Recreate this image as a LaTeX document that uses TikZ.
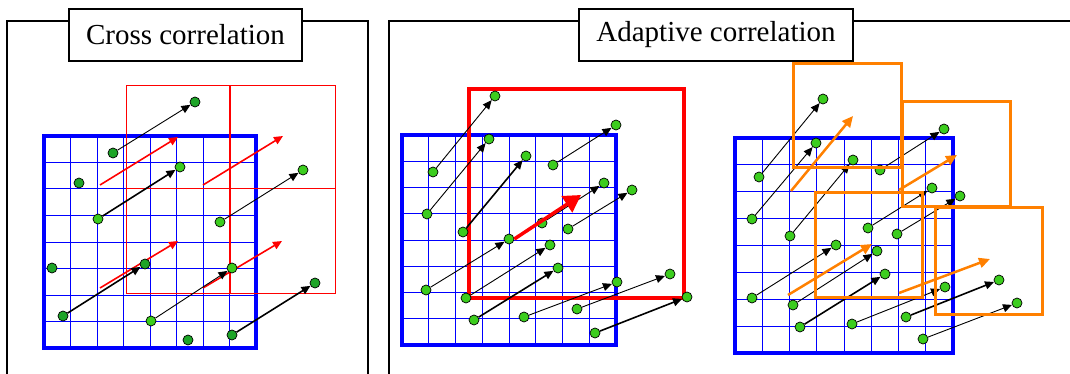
\documentclass[tikz,border=0pt]{standalone}
\usepackage{fontspec}
\setmainfont{Liberation Serif}
\usetikzlibrary{arrows.meta}
\definecolor{gblue}{RGB}{0,0,255}
\definecolor{gred}{RGB}{255,0,0}
\definecolor{gorange}{RGB}{255,128,0}
\definecolor{dotgreen}{RGB}{60,205,30}
\definecolor{dotdark}{RGB}{30,165,40}
\newcommand\mygrid[4]{%
  \foreach \i in {1,...,7}{%
    \draw[gridline] ({#1+\i*(#3-#1)/8},#2) -- ({#1+\i*(#3-#1)/8},#4);
    \draw[gridline] (#1,{#2+\i*(#4-#2)/8}) -- (#3,{#2+\i*(#4-#2)/8});
  }%
  \draw[gridframe] (#1,#2) rectangle (#3,#4);
}
\tikzset{
  panel/.style={line width=1.3pt,draw=black},
  titlebox/.style={draw=black,fill=white,line width=1.1pt,inner sep=0pt,
    minimum height=52pt,font=\fontsize{29}{32}\selectfont},
  gridline/.style={draw=gblue,line width=1pt},
  gridframe/.style={draw=gblue,line width=4pt},
  redwin/.style={draw=gred,line width=1pt},
  bigredwin/.style={draw=gred,line width=4pt},
  orwin/.style={draw=gorange,line width=3pt},
  dot/.style={circle,draw=black,fill=dotgreen,inner sep=0pt,minimum size=10pt,line width=0.7pt},
  dkdot/.style={dot,fill=dotdark},
  thinarr/.style={draw=black,line width=0.9pt,-{Triangle[length=9pt,width=8pt]}},
  thickarr/.style={draw=black,line width=1.6pt,-{Triangle[length=9pt,width=8pt]}},
  redarr/.style={draw=gred,line width=1.6pt,-{Triangle[length=9pt,width=8pt]}},
  bigredarr/.style={draw=gred,line width=3.5pt,-{Triangle[length=17pt,width=19pt]}},
  orarr/.style={draw=gorange,line width=2.5pt,-{Triangle[length=11pt,width=10pt]}},
}
\begin{document}
\begin{tikzpicture}[x=1pt,y=-1pt]
\useasboundingbox (0,0) rectangle (1070,374);
% panels
\draw[panel] (7,380) -- (7,21) -- (368,21) -- (368,380);
\draw[panel] (389,380) -- (389,21) -- (1080,21);
\node[titlebox,minimum width=233pt] (t1) at (185.5,35) {Cross correlation};
\node[titlebox,minimum width=274pt] (t2) at (716,35) {Adaptive correlation};
% ---------- left panel ----------
\mygrid{44}{136}{256}{348}
\draw[redwin] (126,86) rectangle (229,189);
\draw[redwin] (230,86) rectangle (335,189);
\draw[redwin] (126,189) rectangle (229,293);
\draw[redwin] (230,189) rectangle (335,293);
\coordinate (r1s) at (100,185); \coordinate (r1e) at (178,137);
\coordinate (r2s) at (203,185); \coordinate (r2e) at (283,136);
\coordinate (r3s) at (100,288); \coordinate (r3e) at (178,241);
\coordinate (r4s) at (203,288); \coordinate (r4e) at (282,241);
\draw[redarr] (r1s) -- (r1e);
\draw[redarr] (r2s) -- (r2e);
\draw[redarr] (r3s) -- (r3e);
\draw[redarr] (r4s) -- (r4e);
\node[dkdot] (L1) at (113,153) {};
\node[dkdot] (L2) at (195,102) {};
\node[dkdot] (L3) at (79,183) {};
\node[dot] (L4) at (98,219) {};
\node[dot] (L5) at (180,167) {};
\node[dot] (L6) at (220,222) {};
\node[dot] (L7) at (303,170) {};
\node[dkdot] (L8) at (52,268) {};
\node[dkdot] (L9) at (63,316) {};
\node[dkdot] (L10) at (145,264) {};
\node[dot] (L11) at (151,321) {};
\node[dot] (L12) at (232,268) {};
\node[dkdot] (L13) at (188,340) {};
\node[dkdot] (L14) at (232,335) {};
\node[dkdot] (L15) at (315,283) {};
\draw[thinarr] (L1) -- (L2);
\draw[thickarr] (L4) -- (L5);
\draw[thinarr] (L6) -- (L7);
\draw[thickarr] (L9) -- (L10);
\draw[thinarr] (L11) -- (L12);
\draw[thickarr] (L14) -- (L15);
% ---------- middle panel ----------
\mygrid{402}{135}{616}{345}
\draw[bigredwin] (469,89) rectangle (684,298);
\node[dot] (M1) at (433,172) {};
\node[dot] (M2) at (495,96) {};
\node[dot] (M3) at (427,214) {};
\node[dot] (M4) at (489,139) {};
\node[dot] (M5) at (463,232) {};
\node[dot] (M6) at (526,156) {};
\node[dot] (M7) at (553,165) {};
\node[dot] (M8) at (616,125) {};
\node[dot] (M9) at (426,290) {};
\node[dot] (M10) at (509,239) {};
\node[dot] (M11) at (542,223) {};
\node[dot] (M12) at (604,183) {};
\node[dot] (M13) at (568,229) {};
\node[dot] (M14) at (632,190) {};
\node[dot] (M15) at (466,298) {};
\node[dot] (M16) at (550,245) {};
\node[dot] (M17) at (474,320) {};
\node[dot] (M18) at (558,268) {};
\node[dot] (M19) at (524,317) {};
\node[dot] (M20) at (617,282) {};
\node[dot] (M21) at (577,309) {};
\node[dot] (M22) at (670,274) {};
\node[dot] (M23) at (595,333) {};
\node[dot] (M24) at (687,297) {};
\draw[thinarr] (M1) -- (M2);
\draw[thinarr] (M3) -- (M4);
\draw[thickarr] (M5) -- (M6);
\draw[thinarr] (M7) -- (M8);
\draw[thinarr] (M9) -- (M10);
\draw[thinarr] (M11) -- (M12);
\draw[thinarr] (M13) -- (M14);
\draw[thinarr] (M15) -- (M16);
\draw[thickarr] (M17) -- (M18);
\draw[thinarr] (M19) -- (M20);
\draw[thinarr] (M21) -- (M22);
\draw[thickarr] (M23) -- (M24);
\coordinate (bre) at (581,195);
\draw[bigredarr] (M10.east) -- (bre);
% ---------- right panel ----------
\mygrid{735}{138}{953}{353}
\node[dot] (R1) at (759,177) {};
\node[dot] (R2) at (823,99) {};
\node[dot] (R3) at (752,219) {};
\node[dot] (R4) at (816,143) {};
\node[dot] (R5) at (790,236) {};
\node[dot] (R6) at (853,160) {};
\node[dot] (R7) at (880,170) {};
\node[dot] (R8) at (944,129) {};
\node[dot] (R9) at (868,228) {};
\node[dot] (R10) at (932,188) {};
\node[dot] (R11) at (897,234) {};
\node[dot] (R12) at (960,196) {};
\node[dot] (R13) at (752,298) {};
\node[dot] (R14) at (836,245) {};
\node[dot] (R15) at (793,305) {};
\node[dot] (R16) at (877,251) {};
\node[dot] (R17) at (800,327) {};
\node[dot] (R18) at (885,274) {};
\node[dot] (R19) at (852,324) {};
\node[dot] (R20) at (945,287) {};
\node[dot] (R21) at (906,317) {};
\node[dot] (R22) at (999,280) {};
\node[dot] (R23) at (923,339) {};
\node[dot] (R24) at (1017,303) {};
\draw[thinarr] (R1) -- (R2);
\draw[thinarr] (R3) -- (R4);
\draw[thinarr] (R5) -- (R6);
\draw[thinarr] (R7) -- (R8);
\draw[thinarr] (R9) -- (R10);
\draw[thinarr] (R11) -- (R12);
\draw[thinarr] (R13) -- (R14);
\draw[thinarr] (R15) -- (R16);
\draw[thickarr] (R17) -- (R18);
\draw[thinarr] (R19) -- (R20);
\draw[thickarr] (R21) -- (R22);
\draw[thinarr] (R23) -- (R24);
\draw[orwin] (793,64) rectangle (901,168);
\draw[orwin] (902,102) rectangle (1010,206);
\draw[orwin] (815,193) rectangle (922,297);
\draw[orwin] (935,207) rectangle (1042,314);
\coordinate (o1s) at (791,191); \coordinate (o1e) at (853,116);
\coordinate (o2s) at (899,190); \coordinate (o2e) at (957,155);
\coordinate (o3s) at (788,295); \coordinate (o3e) at (872,244);
\coordinate (o4s) at (899,293); \coordinate (o4e) at (990,259);
\draw[orarr] (o1s) -- (o1e);
\draw[orarr] (o2s) -- (o2e);
\draw[orarr] (o3s) -- (o3e);
\draw[orarr] (o4s) -- (o4e);
\end{tikzpicture}
\end{document}
